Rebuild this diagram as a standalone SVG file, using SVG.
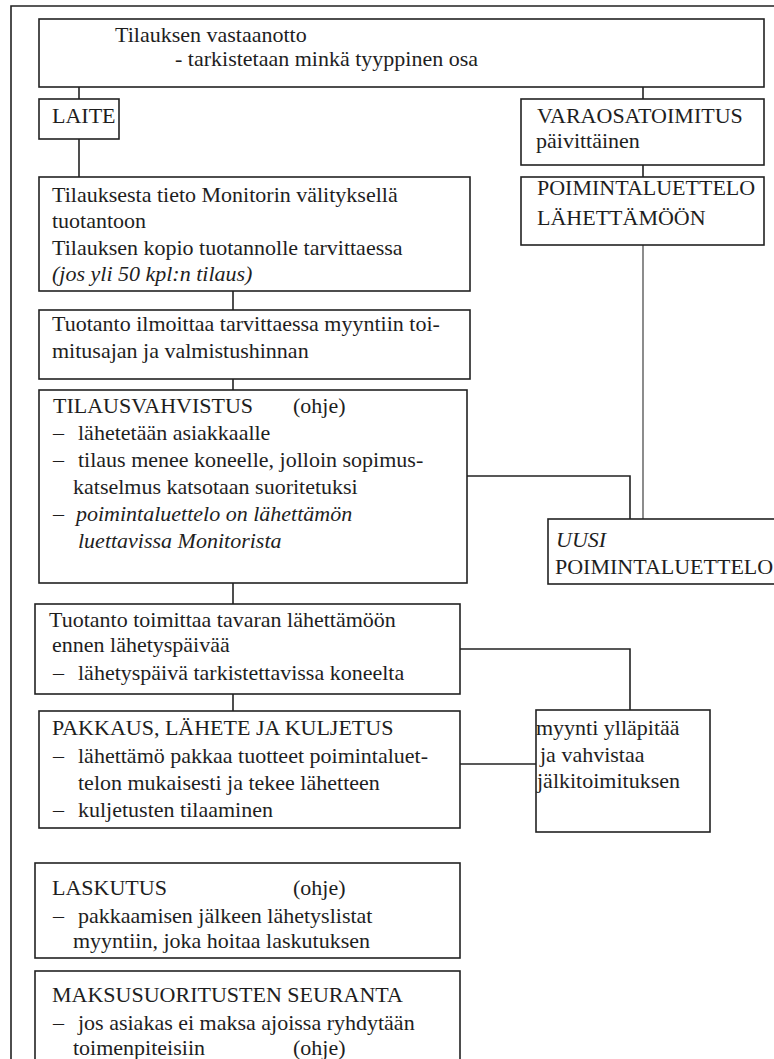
<svg xmlns="http://www.w3.org/2000/svg" width="774" height="1059" viewBox="0 0 774 1059">
<style>
  .box { fill: #ffffff; stroke: #222222; stroke-width: 1.6; }
  .ln { fill: none; stroke: #222222; stroke-width: 1.6; }
  .gl { fill: none; stroke: #808080; stroke-width: 1.8; }
  text { font-family: "Liberation Serif", "Times New Roman", serif; font-size: 22px; fill: #1e1e1e; }
  .it { font-style: italic; }
</style>
<rect x="0" y="0" width="774" height="1059" fill="#ffffff"/>
<path class="ln" d="M11,1060 V6 H776"/>

<g id="connectors">
  <line class="ln" x1="79" y1="87" x2="79" y2="99"/>
  <line class="ln" x1="79" y1="139" x2="79" y2="177"/>
  <line class="ln" x1="643" y1="87" x2="643" y2="99"/>
  <line class="ln" x1="643" y1="165" x2="643" y2="177"/>
  <line class="ln" x1="233" y1="283" x2="233" y2="310"/>
  <line class="ln" x1="233" y1="379" x2="233" y2="390"/>
  <line class="ln" x1="233" y1="583" x2="233" y2="604"/>
  <line class="ln" x1="233" y1="694" x2="233" y2="711"/>
  <path class="ln" d="M467,476 H630 V519"/>
  <path class="ln" d="M460,649 H630 V710"/>
  <line class="ln" x1="460" y1="764" x2="536" y2="764"/>
  <line class="gl" x1="643" y1="234" x2="643" y2="519"/>
</g>

<g id="n-vastaanotto">
  <rect class="box" x="39" y="19" width="725" height="68"/>
  <text x="115" y="42">Tilauksen vastaanotto</text>
  <text x="175" y="66">- tarkistetaan minkä tyyppinen osa</text>
</g>

<g id="n-laite">
  <rect class="box" x="39" y="99" width="80" height="40"/>
  <text x="52" y="123">LAITE</text>
</g>

<g id="n-varaosa">
  <rect class="box" x="521" y="99" width="243" height="66"/>
  <text x="537" y="123">VARAOSATOIMITUS</text>
  <text x="536" y="148">päivittäinen</text>
</g>

<g id="n-poiminta">
  <rect class="box" x="521" y="177" width="243" height="68"/>
  <text x="537" y="195">POIMINTALUETTELO</text>
  <text x="537" y="225">LÄHETTÄMÖÖN</text>
</g>

<g id="n-monitor">
  <rect class="box" x="39" y="177" width="431" height="114"/>
  <text x="52" y="202">Tilauksesta tieto Monitorin välityksellä</text>
  <text x="52" y="228">tuotantoon</text>
  <text x="52" y="255">Tilauksen kopio tuotannolle tarvittaessa</text>
  <text x="52" y="281" class="it">(jos yli 50 kpl:n tilaus)</text>
</g>

<g id="n-ilmoittaa">
  <rect class="box" x="39" y="310" width="431" height="69"/>
  <text x="52" y="331">Tuotanto ilmoittaa tarvittaessa myyntiin toi-</text>
  <text x="52" y="358">mitusajan ja valmistushinnan</text>
</g>

<g id="n-vahvistus">
  <rect class="box" x="39" y="390" width="428" height="193"/>
  <text x="53" y="413">TILAUSVAHVISTUS</text>
  <text x="293" y="413">(ohje)</text>
  <text x="53" y="440">–</text>
  <text x="78" y="440">lähetetään asiakkaalle</text>
  <text x="53" y="467">–</text>
  <text x="78" y="467">tilaus menee koneelle, jolloin sopimus-</text>
  <text x="73" y="494">katselmus katsotaan suoritetuksi</text>
  <text x="53" y="521">–</text>
  <text x="76" y="521" class="it">poimintaluettelo on lähettämön</text>
  <text x="78" y="548" class="it">luettavissa Monitorista</text>
</g>

<g id="n-uusi">
  <rect class="box" x="548" y="519" width="240" height="65"/>
  <text x="556" y="547" class="it">UUSI</text>
  <text x="555" y="574">POIMINTALUETTELO</text>
</g>

<g id="n-toimittaa">
  <rect class="box" x="35" y="604" width="425" height="90"/>
  <text x="49" y="627">Tuotanto toimittaa tavaran lähettämöön</text>
  <text x="52" y="652">ennen lähetyspäivää</text>
  <text x="53" y="680">–</text>
  <text x="78" y="680">lähetyspäivä tarkistettavissa koneelta</text>
</g>

<g id="n-pakkaus">
  <rect class="box" x="39" y="711" width="421" height="117"/>
  <text x="52" y="735">PAKKAUS, LÄHETE JA KULJETUS</text>
  <text x="53" y="763">–</text>
  <text x="78" y="763">lähettämö pakkaa tuotteet poimintaluet-</text>
  <text x="78" y="790">telon mukaisesti ja tekee lähetteen</text>
  <text x="53" y="817">–</text>
  <text x="78" y="817">kuljetusten tilaaminen</text>
</g>

<g id="n-myynti">
  <rect class="box" x="536" y="710" width="174" height="122"/>
  <text x="536" y="735">myynti ylläpitää</text>
  <text x="540" y="762">ja vahvistaa</text>
  <text x="537" y="788">jälkitoimituksen</text>
</g>

<g id="n-laskutus">
  <rect class="box" x="35" y="863" width="425" height="95"/>
  <text x="52" y="895">LASKUTUS</text>
  <text x="293" y="895">(ohje)</text>
  <text x="53" y="923">–</text>
  <text x="78" y="923">pakkaamisen jälkeen lähetyslistat</text>
  <text x="73" y="948">myyntiin, joka hoitaa laskutuksen</text>
</g>

<g id="n-maksu">
  <rect class="box" x="35" y="971" width="425" height="100"/>
  <text x="52" y="1002">MAKSUSUORITUSTEN SEURANTA</text>
  <text x="53" y="1030">–</text>
  <text x="78" y="1030">jos asiakas ei maksa ajoissa ryhdytään</text>
  <text x="73" y="1055">toimenpiteisiin</text>
  <text x="293" y="1055">(ohje)</text>
</g>
</svg>
